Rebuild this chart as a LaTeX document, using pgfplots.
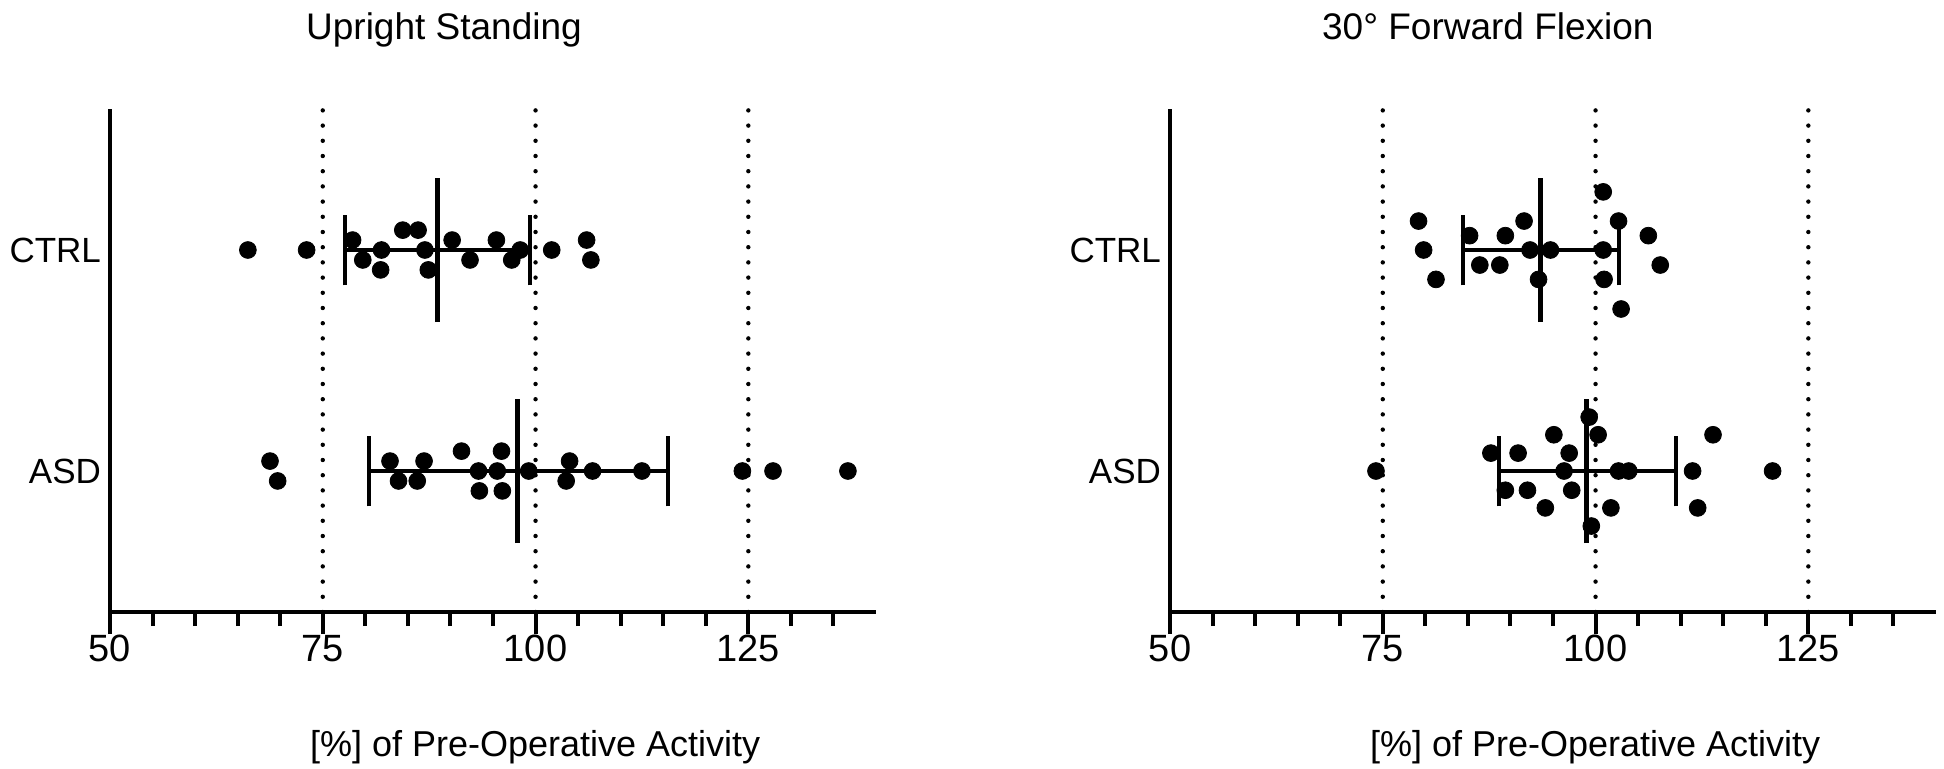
\documentclass[border=0pt]{standalone}
\usepackage{fontspec}
\setmainfont{Liberation Sans}
\usepackage{pgfplots}
\pgfplotsset{compat=1.18}

\pgfplotsset{
  myaxis/.style={
    scale only axis, width=383pt, height=251.5pt,
    xmin=50, xmax=140, ymin=0.362, ymax=2.638,
    axis x line*=bottom, axis y line*=left,
    axis line style={line width=2pt, -},
    xtick={50,75,100,125},
    minor xtick={55,60,65,70,80,85,90,95,105,110,115,120,130,135},
    tick align=outside,
    major tick length=11pt, minor tick length=7pt,
    xtick style={line width=2pt, black},
    ytick={1,2}, yticklabels={ASD,CTRL},
    ytick style={draw=none},
    /pgf/number format/assume math mode=true,
    xticklabel style={font=\fontsize{19}{22}\selectfont, yshift=3pt},
    yticklabel style={font=\fontsize{17.5}{20}\selectfont, xshift=10pt},
    xlabel style={font=\fontsize{18}{21}\selectfont, at={(axis description cs:0.555,0)}, anchor=base, yshift=-72pt},
    title style={font=\fontsize{18.5}{21}\selectfont, anchor=base, yshift=29pt},
    xlabel={[\%] of Pre-Operative Activity},
    clip=false,
  },
  refline/.style={line width=2.2pt, dash pattern=on 0pt off 7.6pt, line cap=round, black},
  pts/.style={only marks, mark=*, mark size=4.2pt, black},
  bar/.style={line width=2pt, black},
  meanl/.style={line width=2.6pt, black},
}

\begin{document}
\begin{tikzpicture}
\path[use as bounding box] (-55pt,-78pt) rectangle (917pt,306pt);

% ---------------- Left panel ----------------
\begin{axis}[myaxis, title={Upright Standing},
  title style={at={(axis description cs:0.436,1)}}]
\addplot[refline] coordinates {(75,0.362) (75,2.638)};
\addplot[refline] coordinates {(100,0.362) (100,2.638)};
\addplot[refline] coordinates {(125,0.362) (125,2.638)};
% CTRL
\addplot[pts] coordinates {
(66.2,2) (73.1,2) (78.5,2.045) (79.7,1.955) (81.9,2) (81.8,1.91)
(84.4,2.09) (86.2,2.09) (87.0,2) (87.4,1.91) (90.2,2.045) (92.3,1.955)
(95.4,2.045) (97.2,1.955) (98.2,2) (101.9,2) (106.0,2.045) (106.5,1.955)};
\addplot[bar] coordinates {(77.6,2) (99.4,2)};
\addplot[bar] coordinates {(77.6,1.84) (77.6,2.16)};
\addplot[bar] coordinates {(99.4,1.84) (99.4,2.16)};
\addplot[meanl] coordinates {(88.5,1.674) (88.5,2.326)};
% ASD
\addplot[pts] coordinates {
(68.8,1.045) (69.7,0.955) (82.9,1.045) (83.9,0.955) (86.1,0.955) (86.9,1.045)
(91.3,1.09) (93.3,1) (93.4,0.91) (95.5,1) (96.0,1.09) (96.1,0.91)
(99.2,1) (103.6,0.955) (104.0,1.045) (106.7,1) (112.5,1) (124.3,1)
(127.9,1) (136.7,1)};
\addplot[bar] coordinates {(80.4,1) (115.6,1)};
\addplot[bar] coordinates {(80.4,0.84) (80.4,1.16)};
\addplot[bar] coordinates {(115.6,0.84) (115.6,1.16)};
\addplot[meanl] coordinates {(97.9,0.674) (97.9,1.326)};
\end{axis}

% ---------------- Right panel ----------------
\begin{axis}[myaxis, at={(530pt,0)}, title={30° Forward Flexion},
  title style={at={(axis description cs:0.415,1)}}]
\addplot[refline] coordinates {(75,0.362) (75,2.638)};
\addplot[refline] coordinates {(100,0.362) (100,2.638)};
\addplot[refline] coordinates {(125,0.362) (125,2.638)};
% CTRL
\addplot[pts] coordinates {
(79.2,2.131) (79.8,2) (81.25,1.867) (85.2,2.065) (86.4,1.932) (88.75,1.932)
(89.4,2.065) (91.6,2.131) (92.3,2) (93.3,1.867) (94.7,2) (100.9,2.263)
(100.9,2) (101.0,1.867) (102.7,2.131) (103.0,1.733) (106.2,2.065) (107.6,1.932)};
\addplot[bar] coordinates {(84.4,2) (102.7,2)};
\addplot[bar] coordinates {(84.4,1.84) (84.4,2.16)};
\addplot[bar] coordinates {(102.7,1.84) (102.7,2.16)};
\addplot[meanl] coordinates {(93.56,1.674) (93.56,2.326)};
% ASD
\addplot[pts] coordinates {
(74.2,1) (87.7,1.081) (89.4,0.913) (90.9,1.081) (92.0,0.913) (94.1,0.833)
(95.1,1.164) (96.3,1) (96.9,1.081) (97.2,0.913) (99.25,1.244) (99.5,0.751)
(100.3,1.164) (102.7,1) (103.9,1) (101.8,0.833) (111.4,1) (112.0,0.833)
(113.8,1.164) (120.8,1)};
\addplot[bar] coordinates {(88.6,1) (109.4,1)};
\addplot[bar] coordinates {(88.6,0.84) (88.6,1.16)};
\addplot[bar] coordinates {(109.4,0.84) (109.4,1.16)};
\addplot[meanl] coordinates {(98.96,0.674) (98.96,1.326)};
\end{axis}
\end{tikzpicture}
\end{document}
